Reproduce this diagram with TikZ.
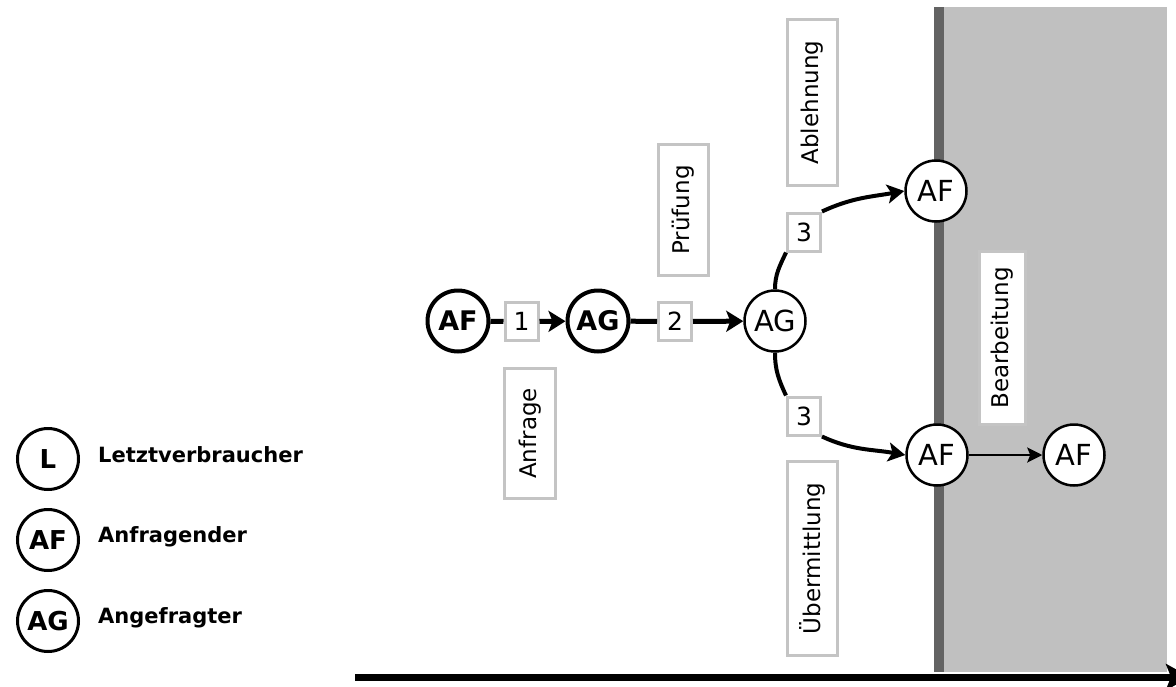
\documentclass[tikz,border=0pt]{standalone}
\usepackage{fontspec}
\setmainfont{DejaVu Sans}
\usetikzlibrary{arrows.meta}
\definecolor{boxgray}{HTML}{C4C4C4}
\definecolor{zonegray}{HTML}{C0C0C0}
\definecolor{edgegray}{HTML}{636363}
\begin{document}
\begin{tikzpicture}[x=1pt,y=-1pt,
  actor/.style={circle, draw, fill=white, line width=2.5pt, minimum size=61pt, inner sep=0pt, font=\fontsize{29}{32}\selectfont},
  actorb/.style={actor, line width=4pt, font=\fontsize{27}{32}\selectfont\bfseries},
  legactor/.style={actor, line width=3pt, font=\fontsize{26}{30}\selectfont\bfseries},
  numbox/.style={draw=boxgray, fill=white, line width=3pt, minimum width=33pt, minimum height=38pt, inner sep=0pt, font=\fontsize{25}{28}\selectfont},
  phase/.style={draw=boxgray, fill=white, line width=3pt, rotate=90, inner sep=0pt, minimum height=50pt, font=\fontsize{23}{28}\selectfont},
  legtext/.style={anchor=west, inner sep=0pt, font=\fontsize{21}{25}\selectfont\bfseries},
  flow/.style={line width=5pt},
  flowarr/.style={line width=5pt, -{Stealth[length=17pt,width=21pt,inset=4pt]}},
  curvearr/.style={line width=4pt, -{Stealth[length=17pt,width=19pt,inset=4pt]}},
  thinarr/.style={line width=2.5pt, -{Stealth[length=15pt,width=15pt,inset=3pt]}}
]
\clip (0,0) rectangle (1176,686);
\useasboundingbox (0,0) rectangle (1176,686);
% zone
\fill[zonegray] (944,7) rectangle (1167,672);
\fill[edgegray] (934,7) rectangle (944,672);
% axis
\coordinate (ax0) at (355,677);
\coordinate (ax1) at (1190,677);
\draw[line width=7pt, -{Stealth[length=24pt,width=26pt,inset=5pt]}] (ax0) -- (ax1);

% phase labels
\node[phase, minimum width=131pt] (pruef) at (683,210) {Prüfung};
\node[phase, minimum width=166pt] (ableh) at (812.5,102.5) {Ablehnung};
\node[phase, minimum width=130pt, minimum height=51pt] (anfr) at (530,433.5) {Anfrage};
\node[phase, minimum width=194pt] (uebe) at (812.5,558.5) {Übermittlung};
\node[phase, minimum width=173pt, minimum height=46pt] (bearb) at (1002.5,338) {Bearbeitung};

% actors
\node[actorb] (af1) at (458,321) {AF};
\node[actorb] (ag1) at (598,321) {AG};
\node[actor] (ag2) at (775,321) {AG};
\node[actor] (af2) at (936,191) {AF};
\node[actor] (af3) at (937,455) {AF};
\node[actor] (af4) at (1074,455) {AF};

% number boxes
\node[numbox] (n1) at (521.5,321.5) {1};
\node[numbox] (n2) at (675,321.5) {2};
\node[numbox] (n3a) at (804,232) {3};
\node[numbox] (n3b) at (804,416) {3};

% connectors
\draw[flow] (af1) -- (n1);
\draw[flowarr] (n1) -- (ag1);
\draw[flow] (ag1) -- (n2);
\draw[flowarr] (n2) -- (ag2);
\draw[line width=4pt] (ag2.north) to[out=90,in=-115] (n3a.south west);
\draw[curvearr] (n3a.north east) to[out=25,in=190] (af2.west);
\draw[line width=4pt] (ag2.south) to[out=-90,in=115] (n3b.north west);
\draw[curvearr] (n3b.south east) to[out=-25,in=170] (af3.west);
\draw[thinarr] (af3) -- (af4);

% legend
\node[legactor] (lgL) at (48,459) {L};
\node[legactor] (lgAF) at (48,540) {AF};
\node[legactor] (lgAG) at (48,621) {AG};
\node[legtext] (tL) at (98,455) {Letztverbraucher};
\node[legtext] (tAF) at (98,537) {Anfragender};
\node[legtext] (tAG) at (98,618) {Angefragter};
\end{tikzpicture}
\end{document}
